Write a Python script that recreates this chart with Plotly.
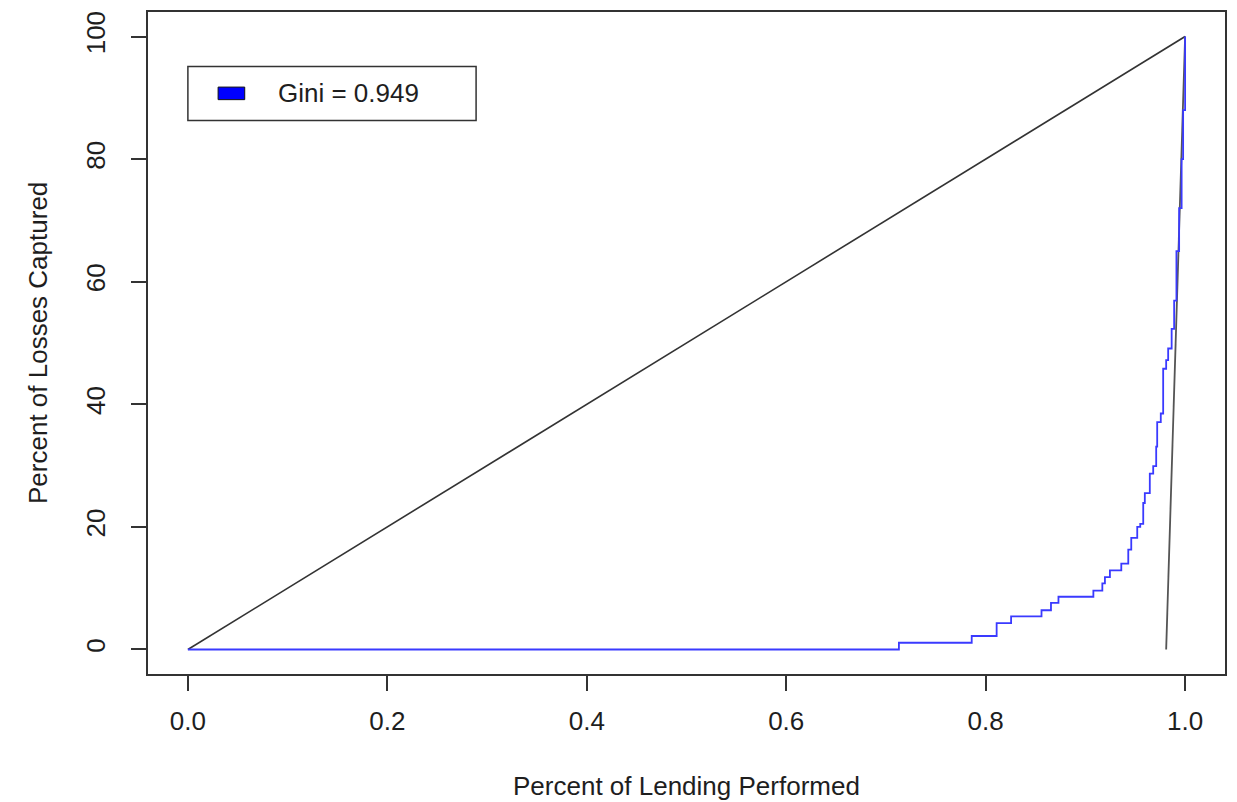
import plotly.graph_objects as go

# ---- data ----
lending_pct = [0.0, 0.713, 0.786, 0.811, 0.8255, 0.856, 0.8655, 0.873, 0.908, 0.917,
               0.9196, 0.9246, 0.936, 0.943, 0.946, 0.952, 0.955, 0.958, 0.9596,
               0.9646, 0.968, 0.971, 0.972, 0.9756, 0.978, 0.981, 0.983, 0.9865,
               0.989, 0.9913, 0.994, 0.9965, 0.998, 1.0]
losses_pct = [0.0, 1.1, 2.2, 4.3, 5.4, 6.4, 7.6, 8.6, 9.6, 10.8,
              11.8, 12.9, 14.0, 16.3, 18.2, 20.0, 20.5, 23.9, 25.5,
              28.7, 29.9, 33.1, 37.1, 38.5, 45.8, 47.2, 49.1, 52.3,
              56.9, 65.0, 72.0, 80.0, 88.0, 100.0]
diag_x = [0.0, 1.0]
diag_y = [0.0, 100.0]
perfect_x = [0.981, 1.0]
perfect_y = [0.0, 100.0]
gini = 0.949
x_ticks = [0.0, 0.2, 0.4, 0.6, 0.8, 1.0]
x_tick_labels = ["0.0", "0.2", "0.4", "0.6", "0.8", "1.0"]
y_ticks = [0, 20, 40, 60, 80, 100]
y_tick_labels = ["0", "20", "40", "60", "80", "100"]

FONT = "Liberation Sans, Arial, Helvetica, sans-serif"
FS = 26
TXT = "#1e1e1e"

fig = go.Figure()
fig.add_trace(go.Scatter(x=diag_x, y=diag_y, mode="lines",
                         line=dict(color="#333333", width=1.6), showlegend=False))
fig.add_trace(go.Scatter(x=perfect_x, y=perfect_y, mode="lines",
                         line=dict(color="#555555", width=1.8), showlegend=False))
fig.add_trace(go.Scatter(x=lending_pct, y=losses_pct, mode="lines",
                         line=dict(color="#3a3aff", width=1.8, shape="hv"),
                         showlegend=False))

# legend box (manual, R-style)
fig.add_shape(type="rect", xref="x", yref="y", x0=0.0, x1=0.289, y0=86.3, y1=95.1,
              line=dict(color="#333333", width=1.5), fillcolor="white", layer="above")
fig.add_shape(type="rect", xref="x", yref="y", x0=0.0303, x1=0.057, y0=89.7, y1=91.75,
              line=dict(color="#111111", width=1), fillcolor="#0000ff", layer="above")
fig.add_annotation(x=0.0888, y=90.86, xref="x", yref="y", xanchor="left", yanchor="middle",
                   text=f"Gini = {gini}", showarrow=False,
                   font=dict(family=FONT, size=FS, color=TXT))

# axis titles
fig.add_annotation(x=0.5, y=0, xref="paper", yref="paper", yanchor="middle",
                   yshift=-112, text="Percent of Lending Performed", showarrow=False,
                   font=dict(family=FONT, size=FS, color=TXT))
fig.add_annotation(x=0, y=0.5, xref="paper", yref="paper", xanchor="center",
                   xshift=-110, textangle=-90, text="Percent of Losses Captured",
                   showarrow=False, font=dict(family=FONT, size=FS, color=TXT))

axis_common = dict(showgrid=False, zeroline=False, showline=True, mirror=True,
                   linecolor="#333333", linewidth=1.5, ticks="outside", ticklen=15,
                   tickwidth=1.5, tickcolor="#333333",
                   tickfont=dict(family=FONT, size=FS, color=TXT))
fig.update_layout(
    width=1237, height=802,
    margin=dict(l=148, r=10, t=10, b=128),
    paper_bgcolor="white", plot_bgcolor="white",
    xaxis=dict(range=[-0.04, 1.04], tickvals=x_ticks, ticktext=x_tick_labels,
               ticklabelstandoff=8, **axis_common),
    yaxis=dict(range=[-4, 104], tickvals=y_ticks, ticktext=y_tick_labels,
               tickangle=-90, ticklabelstandoff=16, **axis_common),
    showlegend=False,
)
fig.write_html("out.html")
